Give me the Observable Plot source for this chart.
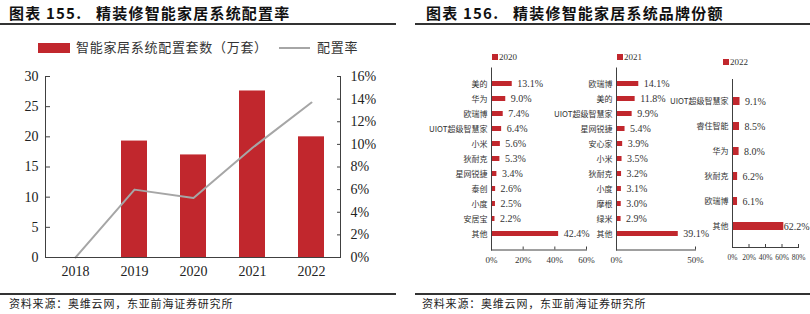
<!DOCTYPE html>
<html><head><meta charset="utf-8">
<script src="https://cdn.jsdelivr.net/npm/d3@7"></script>
<script src="https://cdn.jsdelivr.net/npm/@observablehq/plot@0.6"></script>
<style>
body{margin:0;background:#fff;}
#root{position:relative;width:810px;height:314px;overflow:hidden;font-family:"Noto Sans CJK SC",sans-serif;color:#222;}
.abs{position:absolute;white-space:nowrap;}
.title{font-weight:bold;font-size:15px;letter-spacing:1.2px;color:#111;top:3px;line-height:20px;}
.hr{height:2px;background:#333;}
.src{font-size:11px;letter-spacing:0.8px;top:295px;line-height:16px;color:#222;}
.lg{font-size:13px;letter-spacing:0.7px;line-height:16px;color:#333;}
.sq{width:6px;height:6px;background:#C1272D;}
.yl{font-family:"Liberation Serif",serif;font-size:9px;line-height:10px;color:#333;}
svg{overflow:visible;}
</style></head>
<body><div id="root">
<div class="abs title" style="left:9px">图表 155.&nbsp;&nbsp;&nbsp;精装修智能家居系统配置率</div>
<div class="abs title" style="left:426px">图表 156.&nbsp;&nbsp;&nbsp;精装修智能家居系统品牌份额</div>
<div class="abs hr" style="left:0;top:23px;width:396px"></div>
<div class="abs hr" style="left:415px;top:23px;width:395px"></div>
<div class="abs" style="left:38px;top:43px;width:32px;height:10px;background:#C1272D"></div>
<div class="abs lg" style="left:76px;top:39px">智能家居系统配置套数（万套）</div>
<div class="abs" style="left:279px;top:47px;width:31px;height:2px;background:#A6A6A6"></div>
<div class="abs lg" style="left:317px;top:39px">配置率</div>
<div class="abs sq" style="left:492px;top:54px"></div><div class="abs yl" style="left:499px;top:52px">2020</div>
<div class="abs sq" style="left:617px;top:54px"></div><div class="abs yl" style="left:624px;top:52px">2021</div>
<div class="abs sq" style="left:723px;top:59px"></div><div class="abs yl" style="left:730px;top:57px">2022</div>
<div id="c0" class="abs" style="left:0;top:60px"></div>
<div id="c1" class="abs" style="left:405px;top:50px"></div>
<div id="c2" class="abs" style="left:540px;top:50px"></div>
<div id="c3" class="abs" style="left:650px;top:50px"></div>
<div class="abs hr" style="left:0;top:293px;width:396px"></div>
<div class="abs hr" style="left:415px;top:293px;width:395px"></div>
<div class="abs src" style="left:9px">资料来源：奥维云网，东亚前海证券研究所</div>
<div class="abs src" style="left:422px">资料来源：奥维云网，东亚前海证券研究所</div>
</div>
<script>
const years = ["2018", "2019", "2020", "2021", "2022"];
const installs = [0, 19.3, 17.0, 27.6, 20.0];
const rates = [0, 6.0, 5.25, 9.7, 13.7];
const leftTicks = [0, 5, 10, 15, 20, 25, 30];
const rightTicks = [0, 2, 4, 6, 8, 10, 12, 14, 16];

const brands2020 = ["美的", "华为", "欧瑞博", "UIOT超级智慧家", "小米", "狄耐克", "星网锐捷", "泰创", "小度", "安居宝", "其他"];
const shares2020 = [13.1, 9.0, 7.4, 6.4, 5.6, 5.3, 3.4, 2.6, 2.5, 2.2, 42.4];
const ticks2020 = [0, 20, 40, 60];
const brands2021 = ["欧瑞博", "美的", "UIOT超级智慧家", "星网锐捷", "安心家", "小米", "狄耐克", "小度", "摩根", "绿米", "其他"];
const shares2021 = [14.1, 11.8, 9.9, 5.4, 3.9, 3.5, 3.2, 3.1, 3.0, 2.9, 39.1];
const ticks2021 = [0, 50];
const brands2022 = ["UIOT超级智慧家", "睿住智能", "华为", "狄耐克", "欧瑞博", "其他"];
const shares2022 = [9.1, 8.5, 8.0, 6.2, 6.1, 62.2];
const ticks2022 = [0, 20, 40, 60, 80];

const RED = "#C1272D";
const AX = "#404040";
const SERIF = "'Liberation Serif', 'Times New Roman', serif";
const CJK = "'Noto Sans CJK SC', sans-serif";

const k = 30 / 16;
const leftData = years.map((y, i) => ({year: y, v: installs[i], r: rates[i] * k}));

const c0 = Plot.plot({
  width: 400, height: 230, marginTop: 16, marginBottom: 33, marginLeft: 45, marginRight: 60,
  style: {fontFamily: SERIF, fontSize: "14px", color: "#222", background: "transparent", overflow: "visible"},
  x: {domain: years, paddingInner: 0.56, paddingOuter: 0.28},
  y: {domain: [0, 30]},
  marks: [
    Plot.barY(leftData, {x: "year", y: "v", fill: RED}),
    Plot.line(leftData, {x: "year", y: "r", stroke: "#A6A6A6", strokeWidth: 2}),
    Plot.axisY({ticks: leftTicks, tickSize: -5, tickPadding: 12, label: null, stroke: AX}),
    Plot.axisY({anchor: "right", ticks: rightTicks.map(p => p * k), tickFormat: v => Math.round(v / k) + "%", tickSize: -4, tickPadding: 14, label: null, stroke: AX}),
    Plot.axisX({tickSize: 0, tickPadding: 9, label: null}),
    Plot.frame({anchor: "left", stroke: AX}),
    Plot.frame({anchor: "right", stroke: AX}),
    Plot.frame({anchor: "bottom", stroke: AX})
  ]
});
document.getElementById("c0").append(c0);

function small(brands, shares, ticks, o) {
  const data = brands.map((b, i) => ({b, s: shares[i]}));
  const main = data.filter(d => d.s < o.clip);
  const big = data.filter(d => d.s >= o.clip);
  return Plot.plot({
    width: o.w, height: o.h, marginLeft: o.ml, marginRight: o.mr, marginTop: o.mt, marginBottom: o.mb,
    style: {fontFamily: SERIF, fontSize: o.tf + "px", color: "#333", background: "transparent", overflow: "visible"},
    x: {domain: [0, ticks[ticks.length - 1]]},
    y: {domain: brands, padding: o.pad},
    marks: [
      Plot.barX(data, {x: "s", y: "b", fill: RED}),
      Plot.text(main, {x: "s", y: "b", text: d => d.s.toFixed(1) + "%", dx: 5, textAnchor: "start", fontFamily: SERIF, fontSize: 10, fill: "#333"}),
      Plot.text(big, {x: "s", y: "b", text: d => d.s.toFixed(1) + "%", dx: 0, textAnchor: "start", fontFamily: SERIF, fontSize: 10, fill: "#333"}),
      Plot.axisY({tickSize: 0, tickPadding: 4, label: null, fontFamily: CJK, fontSize: 8}),
      Plot.axisX({ticks, tickFormat: d => d + "%", tickSize: -3, tickPadding: 10, label: null, stroke: AX}),
      Plot.frame({anchor: "left", stroke: AX}),
      Plot.frame({anchor: "bottom", stroke: AX})
    ]
  });
}
document.getElementById("c1").append(small(brands2020, shares2020, ticks2020, {w: 200, h: 220, ml: 86, mr: 19, mt: 17.5, mb: 20.5, pad: 0.67, tf: 9, clip: 100}));
document.getElementById("c2").append(small(brands2021, shares2021, ticks2021, {w: 200, h: 220, ml: 76, mr: 45, mt: 17.5, mb: 20.5, pad: 0.67, tf: 9, clip: 100}));
document.getElementById("c3").append(small(brands2022, shares2022, ticks2022, {w: 160, h: 220, ml: 82, mr: 12, mt: 29, mb: 23, pad: 0.69, tf: 7.5, clip: 50}));
</script>
</body></html>
